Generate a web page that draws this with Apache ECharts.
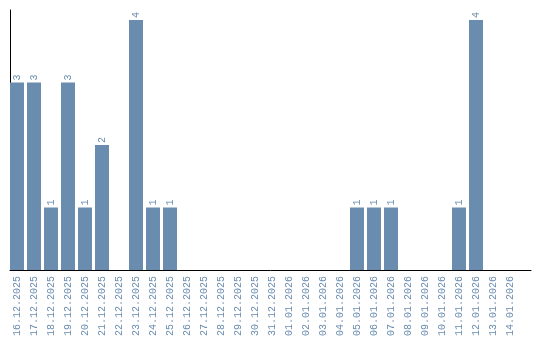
<!DOCTYPE html>
<html>
<head>
<meta charset="utf-8">
<script src="https://cdn.jsdelivr.net/npm/echarts@6/dist/echarts.min.js"></script>
<style>html,body{margin:0;padding:0;background:#fff}#c{width:540px;height:340px}</style>
</head>
<body>
<div id="c"></div>
<script>
var categories = ["16.12.2025","17.12.2025","18.12.2025","19.12.2025","20.12.2025","21.12.2025","22.12.2025","23.12.2025","24.12.2025","25.12.2025","26.12.2025","27.12.2025","28.12.2025","29.12.2025","30.12.2025","31.12.2025","01.01.2026","02.01.2026","03.01.2026","04.01.2026","05.01.2026","06.01.2026","07.01.2026","08.01.2026","09.01.2026","10.01.2026","11.01.2026","12.01.2026","13.01.2026","14.01.2026"];
var counts = [3,3,1,3,1,2,0,4,1,1,0,0,0,0,0,0,0,0,0,0,1,1,1,0,0,0,1,4,0,0];

var blue = '#6a8caf';
var font = 'Liberation Mono';
var chart = echarts.init(document.getElementById('c'), null, {renderer: 'canvas'});
chart.setOption({
  animation: false,
  grid: [
    {left: 8.5, width: 510, top: 10, bottom: 70, containLabel: false},
    {left: 10, right: 9, top: 10, bottom: 70, containLabel: false}
  ],
  xAxis: [{
    type: 'category',
    gridIndex: 0,
    data: categories,
    axisLine: {show: false},
    axisTick: {show: false},
    axisLabel: {rotate: 90, interval: 0, color: blue, fontFamily: font, fontSize: 10, margin: 6}
  }, {
    type: 'category',
    gridIndex: 1,
    data: categories,
    axisLine: {show: true, lineStyle: {color: '#000', width: 1}},
    axisTick: {show: false},
    axisLabel: {show: false}
  }],
  yAxis: [{
    type: 'value',
    gridIndex: 0,
    min: 0,
    max: 4.16,
    axisLine: {show: false},
    axisTick: {show: false},
    axisLabel: {show: false},
    splitLine: {show: false}
  }, {
    type: 'value',
    gridIndex: 1,
    min: 0,
    max: 4.16,
    axisLine: {show: true, lineStyle: {color: '#000', width: 1}},
    axisTick: {show: false},
    axisLabel: {show: false},
    splitLine: {show: false}
  }],
  series: [{
    type: 'bar',
    xAxisIndex: 0,
    yAxisIndex: 0,
    data: counts.map(function (v) { return v === 0 ? null : v; }),
    barWidth: 14,
    itemStyle: {color: blue},
    label: {
      show: true,
      position: 'top',
      rotate: 90,
      align: 'left',
      verticalAlign: 'middle',
      distance: 2,
      color: blue,
      fontFamily: font,
      fontSize: 10
    }
  }]
});
</script>
</body>
</html>
